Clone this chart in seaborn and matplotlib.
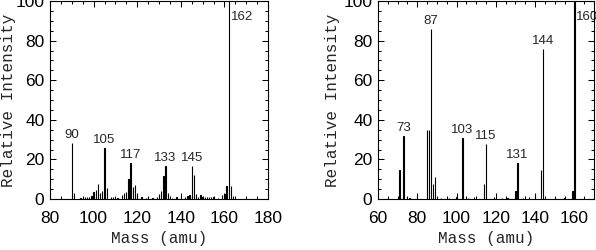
import matplotlib.pyplot as plt
import numpy as np
import pandas as pd
import seaborn as sns
from matplotlib.ticker import MultipleLocator

# left spectrum
left_mass = [90, 91, 94, 96, 97, 98, 99, 100, 101, 102, 103, 104, 105, 106,
             108, 109, 111, 113, 114, 115, 116, 117, 118, 119, 120, 122, 124,
             125, 127, 129, 130, 131, 132, 133, 134, 136, 138, 140, 142, 143,
             144, 145, 146, 147, 148, 149, 150, 151, 152, 153, 154, 155, 157,
             159, 160, 161, 162, 163, 164]
left_int = [28.5, 3, 0.6, 1, 1, 1, 1.5, 3.5, 4.4, 7.5, 3, 4, 25.6, 5.4,
            0.8, 1, 0.6, 2, 3, 3.3, 10.3, 18.3, 6, 7, 1.5, 0.8, 0.6,
            0.8, 0.6, 1, 2.7, 4, 11.5, 16.8, 3.2, 0.6, 0.8, 1, 0.8, 1.3,
            2, 16.6, 12.2, 2.7, 1.2, 2, 1, 1, 1, 0.8, 1, 0.8, 0.6,
            2, 2.4, 6.4, 100, 6.4, 1.7]
left_peaks = [90, 105, 117, 133, 145, 162]

# right spectrum
right_mass = [71, 73, 76, 80, 85, 86, 87, 88, 89, 92, 96, 100, 103, 106, 109,
              114, 115, 119, 123, 126, 130, 131, 134, 137, 140, 143, 144, 150,
              155, 159, 160]
right_int = [14.4, 32, 0.6, 1.5, 35, 35, 86, 7.5, 11, 0.6, 0.6, 0.8, 31, 0.6,
             0.8, 7.5, 28, 0.8, 0.6, 0.6, 4, 18, 0.6, 0.8, 2, 14.4, 76, 0.6,
             0.6, 4, 100]
right_peaks = [73, 87, 103, 115, 131, 144, 160]

sns.set_style("ticks")
plt.rcParams["font.family"] = ["Liberation Sans", "DejaVu Sans"]

fig = plt.figure(figsize=(5.96, 2.5), dpi=100)
ax1 = fig.add_axes([50 / 596, 51 / 250, 218 / 596, 198 / 250])
ax2 = fig.add_axes([378 / 596, 51 / 250, 216 / 596, 198 / 250])


def draw_spectrum(ax, mass, inten, peaks, xlim):
    df = pd.DataFrame({"Mass": mass, "Intensity": inten})
    sns.histplot(df, x="Mass", weights="Intensity", discrete=True, shrink=0.15,
                 color="black", alpha=1, linewidth=0.8, edgecolor="black", ax=ax)
    ax.set_xlim(*xlim)
    ax.set_ylim(0, 100)
    ax.xaxis.set_major_locator(MultipleLocator(20))
    ax.xaxis.set_minor_locator(MultipleLocator(5))
    ax.yaxis.set_major_locator(MultipleLocator(20))
    ax.yaxis.set_minor_locator(MultipleLocator(5))
    ax.tick_params(which="both", direction="in", top=True, right=True,
                   width=0.75, colors="black", labelsize=12.5)
    ax.tick_params(which="major", length=4.5)
    ax.tick_params(which="minor", length=2.2)
    ax.tick_params(axis="x", pad=8.5)
    ax.tick_params(axis="y", pad=4)
    for sp in ax.spines.values():
        sp.set_linewidth(0.8)
        sp.set_color("black")
        sp.set_zorder(5)
    for p in peaks:
        h = inten[mass.index(p)]
        if h >= 99:
            ax.text(p + 0.8, 92, str(p), ha="left", va="center", fontsize=9.5)
        else:
            ax.text(p, h + 1, str(p), ha="center", va="bottom", fontsize=9.5)
    ax.set_xlabel("Mass (amu)", family="Liberation Mono", fontsize=11.5)
    ax.set_ylabel("Relative Intensity", family="Liberation Mono", fontsize=11.5)
    ax.xaxis.set_label_coords(0.5, -0.16)


draw_spectrum(ax1, left_mass, left_int, left_peaks, (80, 180))
draw_spectrum(ax2, right_mass, right_int, right_peaks, (60, 170))
ax1.yaxis.set_label_coords(-0.155, 0.5)
ax2.yaxis.set_label_coords(-0.175, 0.5)

plt.savefig("out.png", dpi=100)
plt.close(fig)
